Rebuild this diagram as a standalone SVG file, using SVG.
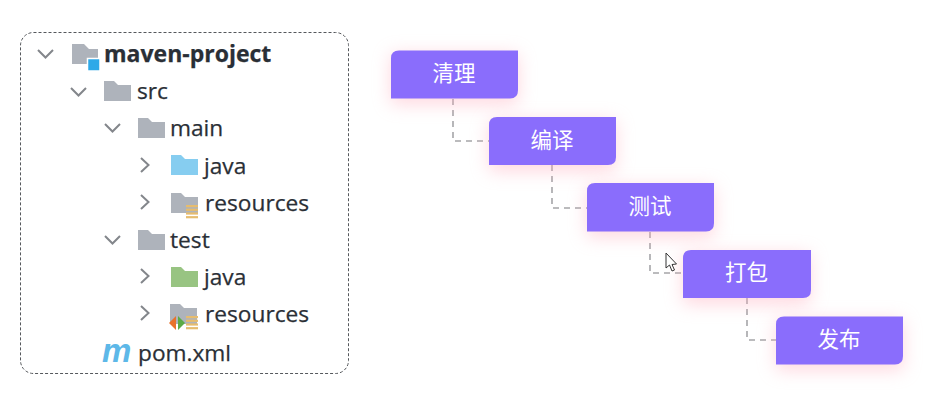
<svg xmlns="http://www.w3.org/2000/svg" width="939" height="412" viewBox="0 0 939 412">
<defs>
<filter id="glow" x="-30%" y="-50%" width="160%" height="210%"><feGaussianBlur stdDeviation="9"/></filter>
<path id="folder" d="M0 0H10L14 4H27V20H0Z"/>
<path id="open" d="M0 0L7.500 7.500L15 0" fill="none" stroke="#83868b" stroke-width="2"/>
<path id="closed" d="M0 0L7.500 7L0 14" fill="none" stroke="#83868b" stroke-width="2"/>
<g id="lines" fill="#e6bc6e"><rect width="12" height="2.200"/><rect y="3.700" width="12" height="2.200"/><rect y="7.400" width="12" height="2.200"/><rect y="11.100" width="12" height="2.200"/></g>
</defs>
<style>
.t{font-family:"Open Sans","Liberation Sans",sans-serif;font-size:22.7px;fill:#2a2f36;stroke:#2a2f36;stroke-width:.25}
.g{fill:#aeb3bb}
.n{fill:#8a6dfc}
.s{fill:#ffb0c0;opacity:.5;filter:url(#glow)}
.l{font-family:"Noto Sans CJK SC","Noto Sans",sans-serif;font-size:21.500px;fill:#fff;text-anchor:middle}
.c{fill:none;stroke:#a5a5a8;stroke-width:1.6;stroke-dasharray:6 5}
</style>
<rect width="939" height="412" fill="#fff"/>
<rect id="frame" x="20.500" y="32.500" width="328" height="341" rx="13" fill="#fff" stroke="#55585c" stroke-width="1" stroke-dasharray="3 2"/>
<g id="tree-maven-project"><use href="#open" x="38" y="50"/><path class="g" d="M72 44H84L89 49H98V64H72Z"/><rect x="87.500" y="58.500" width="12.500" height="12.500" fill="#2ea9e8" stroke="#fff" stroke-width="1.500"/><text class="t" x="104" y="62" style="font-weight:700;font-size:23px">maven-project</text></g>
<g id="tree-src"><use href="#open" x="71" y="88"/><use href="#folder" class="g" x="104" y="81"/><text class="t" x="137" y="99">src</text></g>
<g id="tree-main"><use href="#open" x="105" y="124"/><use href="#folder" class="g" x="138" y="118"/><text class="t" x="170" y="136">main</text></g>
<g id="tree-java-main"><use href="#closed" x="141" y="158"/><use href="#folder" fill="#86cdf0" x="171" y="155"/><text class="t" x="204" y="174">java</text></g>
<g id="tree-resources-main"><use href="#closed" x="141" y="195"/><use href="#folder" class="g" x="171" y="193"/><use href="#lines" x="186" y="205"/><text class="t" x="205" y="211">resources</text></g>
<g id="tree-test"><use href="#open" x="105" y="236"/><use href="#folder" class="g" x="138" y="230"/><text class="t" x="170" y="248">test</text></g>
<g id="tree-java-test"><use href="#closed" x="141" y="269"/><use href="#folder" fill="#98c482" x="171" y="267"/><text class="t" x="204" y="285">java</text></g>
<g id="tree-resources-test"><use href="#closed" x="141" y="306"/><use href="#folder" class="g" x="170" y="304"/><use href="#lines" x="186" y="316"/><path d="M176 316L169 323L176 330Z" fill="#e8732c"/><path d="M178 316L185 323L178 330Z" fill="#5cab45"/><text class="t" x="205" y="322">resources</text></g>
<g id="tree-pom"><text x="102" y="362" style="font-family:'Liberation Sans',sans-serif;font-size:33px;font-weight:700;font-style:italic;fill:#5db8e8">m</text><text class="t" x="138" y="361">pom.xml</text></g>
<g id="connectors">
<path class="c" d="M453 99V141H489"/>
<path class="c" d="M552 165V208H587"/>
<path class="c" d="M650 232V273H683"/>
<path class="c" d="M747 298V340H776"/>
</g>
<g id="step-1"><rect class="s" x="391" y="54" width="127" height="50"/><path class="n" d="M391 58Q391 50.500 399 50.500H518V90Q518 98.500 510 98.500H391Z"/><text class="l" x="454" y="81">清理</text></g>
<g id="step-2"><rect class="s" x="489" y="121" width="127" height="50"/><path class="n" d="M489 125Q489 117 497 117H616V157Q616 165 608 165H489Z"/><text class="l" x="552" y="148">编译</text></g>
<g id="step-3"><rect class="s" x="587" y="187" width="127" height="50"/><path class="n" d="M587 191Q587 183 595 183H714V223Q714 231.500 706 231.500H587Z"/><text class="l" x="650" y="214">测试</text></g>
<g id="step-4"><rect class="s" x="683" y="254" width="127" height="50"/><path class="n" d="M683 258Q683 250 691 250H811V290Q811 298 803 298H683Z"/><text class="l" x="746.500" y="280">打包</text></g>
<g id="step-5"><rect class="s" x="776" y="320" width="127" height="50"/><path class="n" d="M776 324Q776 316.500 784 316.500H903V356Q903 364.500 895 364.500H776Z"/><text class="l" x="839" y="347">发布</text></g>
<path id="cursor" d="M666 253V268L669.500 265L672 271L674.500 270L672 264.500L676.500 264Z" fill="#fff" stroke="#333" stroke-width="1"/>
</svg>
